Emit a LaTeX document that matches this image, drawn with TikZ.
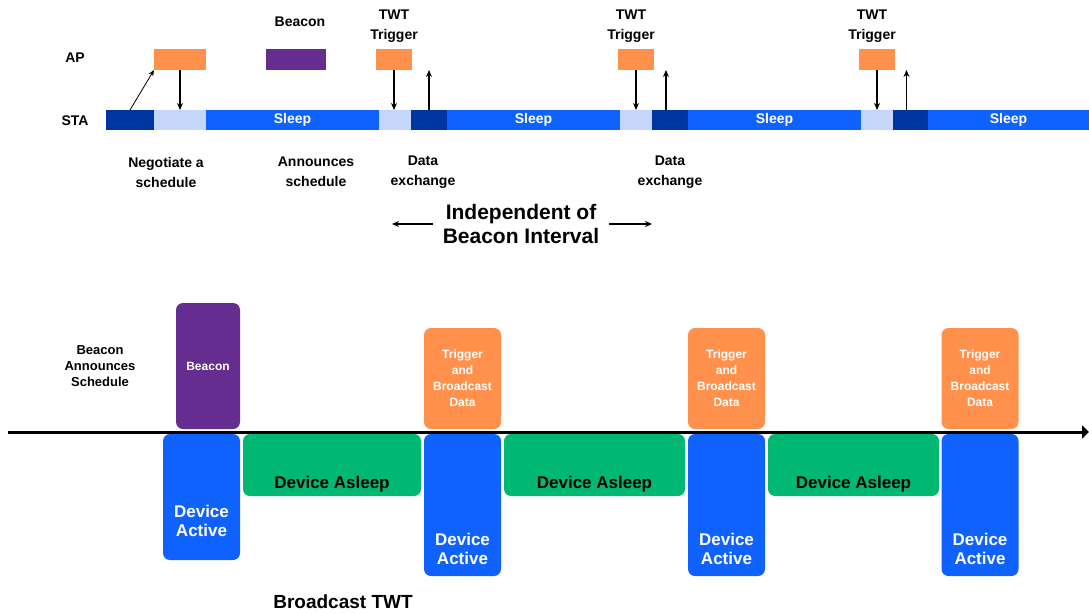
\documentclass[tikz,border=0pt]{standalone}
\usepackage{fontspec}
\setmainfont{Liberation Sans}
\usepackage{xcolor}
\usepackage{tikz}
\usetikzlibrary{positioning,calc,arrows.meta}

\definecolor{apOrange}{HTML}{FF914D}
\definecolor{bcnPurple}{HTML}{662D91}
\definecolor{staDark}{HTML}{0036A3}
\definecolor{staLight}{HTML}{C4D7FA}
\definecolor{staBlue}{HTML}{0F62FE}
\definecolor{asleepGreen}{HTML}{00B871}

\begin{document}
\begin{tikzpicture}[x=1pt, y=-1pt,
  seg/.style={minimum height=20pt, inner sep=0pt, outer sep=0pt, text=white,
    font=\bfseries\fontsize{14}{16}\selectfont},
  apbox/.style={minimum height=21pt, inner sep=0pt, outer sep=0pt},
  lbl/.style={align=center, inner sep=0pt, font=\bfseries\fontsize{14}{20}\selectfont},
  sig/.style={line width=1.3pt, -{Stealth[length=7pt,width=6pt]}},
  box/.style={rounded corners=7pt, inner sep=0pt, outer sep=0pt, align=center},
  boxtxt/.style={align=center, inner sep=0pt}]
  \useasboundingbox (0,0) rectangle (1089,613);

  % AP / STA rows
  \node[lbl] (aplbl) at (75,58) {AP};
  \node[lbl] (stalbl) at (75,121) {STA};

  % STA timeline
  \node[seg, fill=staDark, minimum width=48pt, anchor=west] (s1) at (106,120) {};
  \node[seg, fill=staLight, minimum width=52pt, right=0pt of s1] (s2) {};
  \node[seg, fill=staBlue, minimum width=173pt, right=0pt of s2] (s3) {\raisebox{-1.5pt}{Sleep}};
  \node[seg, fill=staLight, minimum width=32pt, right=0pt of s3] (s4) {};
  \node[seg, fill=staDark, minimum width=36pt, right=0pt of s4] (s5) {};
  \node[seg, fill=staBlue, minimum width=173pt, right=0pt of s5] (s6) {\raisebox{-1.5pt}{Sleep}};
  \node[seg, fill=staLight, minimum width=32pt, right=0pt of s6] (s7) {};
  \node[seg, fill=staDark, minimum width=36pt, right=0pt of s7] (s8) {};
  \node[seg, fill=staBlue, minimum width=173pt, right=0pt of s8] (s9) {\raisebox{-1.5pt}{Sleep}};
  \node[seg, fill=staLight, minimum width=32pt, right=0pt of s9] (s10) {};
  \node[seg, fill=staDark, minimum width=35pt, right=0pt of s10] (s11) {};
  \node[seg, fill=staBlue, minimum width=161pt, right=0pt of s11] (s12) {\raisebox{-1.5pt}{Sleep}};

  % AP frames
  \node[apbox, fill=apOrange, minimum width=52pt] (ap1) at (180,59.5) {};
  \node[apbox, fill=bcnPurple, minimum width=60pt] (bcn) at (296,59.5) {};
  \node[apbox, fill=apOrange, minimum width=36pt] (tw1) at (394,59.5) {};
  \node[apbox, fill=apOrange, minimum width=36pt] (tw2) at (636,59.5) {};
  \node[apbox, fill=apOrange, minimum width=36pt] (tw3) at (877,59.5) {};
  \node[lbl] (bcnlbl) at (300,22) {Beacon};
  \node[lbl] (tw1lbl) at (394,26) {TWT\\Trigger};
  \node[lbl] (tw2lbl) at (631,26) {TWT\\Trigger};
  \node[lbl] (tw3lbl) at (872,26) {TWT\\Trigger};

  % Frame exchanges
  \draw[line width=0.8pt, -{Stealth[length=6pt,width=5pt]}] (s1.north) -- (ap1.south west);
  \draw[sig] (ap1.south) -- (ap1.south |- s2.north);
  \draw[sig] (tw1.south) -- (tw1.south |- s4.north);
  \draw[sig] (s5.north) -- (s5.north |- tw1.south);
  \draw[sig] (tw2.south) -- (tw2.south |- s7.north);
  \draw[sig] ([xshift=-4pt]s8.north) -- ([xshift=-4pt]s8.north |- tw2.south);
  \draw[sig] (tw3.south) -- (tw3.south |- s10.north);
  \draw[sig] ([xshift=-4pt]s11.north) -- ([xshift=-4pt]s11.north |- tw3.south);

  % Captions under STA
  \node[lbl] (neg) at (166,172) {Negotiate a\\schedule};
  \node[lbl] (ann) at (316,172) {Announces\\schedule};
  \node[lbl] (dx1) at (423,172) {Data\\exchange};
  \node[lbl] (dx2) at (670,172) {Data\\exchange};

  % Independent of beacon interval
  \node[align=center, inner sep=0pt, font=\bfseries\fontsize{21}{24}\selectfont] (ind) at (521,224) {Independent of\\Beacon Interval};
  \coordinate (indL) at (392,224);
  \coordinate (indR) at (652,224);
  \draw[line width=1.2pt, -{Stealth[length=7pt,width=6pt]}] ([xshift=-10pt]ind.west |- indL) -- (indL);
  \draw[line width=1.2pt, -{Stealth[length=7pt,width=6pt]}] ([xshift=10pt]ind.east |- indR) -- (indR);

  % Broadcast TWT
  \node[align=center, inner sep=0pt, font=\bfseries\fontsize{13}{16}\selectfont] (bas) at (100,366) {Beacon\\Announces\\Schedule};

  \node[box, fill=bcnPurple, minimum width=64pt, minimum height=126pt, text=white, font=\bfseries\fontsize{12}{16}\selectfont] (bb) at (208,366) {Beacon};
  \node[box, fill=apOrange, minimum width=77pt, minimum height=101pt, text=white, font=\bfseries\fontsize{12}{16}\selectfont] (tb1) at (462.5,378.5) {Trigger\\and\\Broadcast\\Data};
  \node[box, fill=apOrange, minimum width=77pt, minimum height=101pt, text=white, font=\bfseries\fontsize{12}{16}\selectfont] (tb2) at (726.5,378.5) {Trigger\\and\\Broadcast\\Data};
  \node[box, fill=apOrange, minimum width=77pt, minimum height=101pt, text=white, font=\bfseries\fontsize{12}{16}\selectfont] (tb3) at (980,378.5) {Trigger\\and\\Broadcast\\Data};

  \node[box, fill=staBlue, minimum width=77pt, minimum height=126pt] (act1) at (201.5,497) {};
  \node[box, fill=staBlue, minimum width=77pt, minimum height=142pt] (act2) at (462.5,505) {};
  \node[box, fill=staBlue, minimum width=77pt, minimum height=142pt] (act3) at (726.5,505) {};
  \node[box, fill=staBlue, minimum width=77pt, minimum height=142pt] (act4) at (980,505) {};
  \node[boxtxt, text=white, font=\bfseries\fontsize{17}{19}\selectfont] (act1t) at ([yshift=39pt]act1.south) {Device\\Active};
  \node[boxtxt, text=white, font=\bfseries\fontsize{17}{19}\selectfont] (act2t) at ([yshift=27pt]act2.south) {Device\\Active};
  \node[boxtxt, text=white, font=\bfseries\fontsize{17}{19}\selectfont] (act3t) at ([yshift=27pt]act3.south) {Device\\Active};
  \node[boxtxt, text=white, font=\bfseries\fontsize{17}{19}\selectfont] (act4t) at ([yshift=27pt]act4.south) {Device\\Active};

  \node[box, fill=asleepGreen, minimum width=178pt, minimum height=62pt] (sl1) at (332,465) {};
  \node[box, fill=asleepGreen, minimum width=181pt, minimum height=62pt] (sl2) at (594.5,465) {};
  \node[box, fill=asleepGreen, minimum width=171pt, minimum height=62pt] (sl3) at (853.5,465) {};
  \node[boxtxt, font=\bfseries\fontsize{17}{19}\selectfont] (sl1t) at ([yshift=12pt]sl1.south) {Device Asleep};
  \node[boxtxt, font=\bfseries\fontsize{17}{19}\selectfont] (sl2t) at ([yshift=12pt]sl2.south) {Device Asleep};
  \node[boxtxt, font=\bfseries\fontsize{17}{19}\selectfont] (sl3t) at ([yshift=12pt]sl3.south) {Device Asleep};

  % Time axis
  \coordinate (t0) at (8,432);
  \coordinate (t1) at (1089,432);
  \draw[line width=3pt, -{Triangle[length=7pt,width=13pt]}] (t0) -- (t1);

  \node[inner sep=0pt, font=\bfseries\fontsize{19}{22}\selectfont] (btwt) at (343,602) {Broadcast TWT};
\end{tikzpicture}
\end{document}
